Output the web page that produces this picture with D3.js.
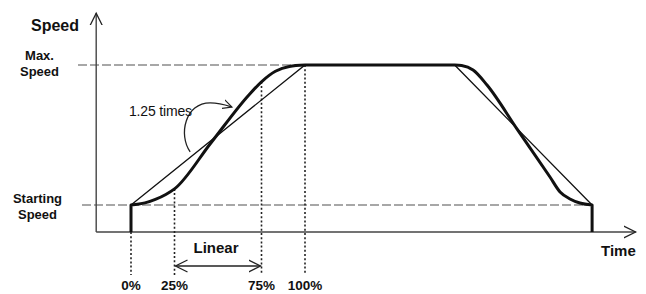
<!DOCTYPE html>
<html>
<head>
<meta charset="utf-8">
<script src="https://cdn.jsdelivr.net/npm/d3@7"></script>
<style>
  body { margin: 0; background: #fff; }
  text { font-family: "Liberation Sans", Arial, sans-serif; fill: #111; }
</style>
</head>
<body>
<div id="chart"></div>
<script>
// time in % of the acceleration period, speed 0 = starting speed, 1 = max speed
var accelTime  = [0, 8, 14, 20, 25, 46, 68, 75, 83, 91, 100];
var accelSpeed = [0, 0.015, 0.04, 0.075, 0.115, 0.445, 0.79, 0.88, 0.955, 0.99, 1];
var decelTime  = [186, 190, 196.6, 204.6, 222, 240.8, 246.6, 252.3, 258, 265];
var decelSpeed = [1, 0.996, 0.964, 0.857, 0.54, 0.2, 0.093, 0.043, 0.014, 0];
var linearTime  = [0, 100, 186, 265];
var linearSpeed = [0, 1, 1, 0];
var markTimes  = [0, 25, 75, 100];
var markLabels = ["0%", "25%", "75%", "100%"];
var levelLabels = [["Starting", "Speed"], ["Max.", "Speed"]];

var width = 646, height = 294;
var svg = d3.select("#chart").append("svg").attr("width", width).attr("height", height);

// Define scales
var xScale = d3.scaleLinear().domain([0, 100]).range([131, 305]);
var yScale = d3.scaleLinear().domain([0, 1]).range([205, 65]);
var tMin = -20, tMax = 290, vMin = -0.193, vMax = 1.37;

// open arrow heads
var defs = svg.append("defs");
function arrowMarker(id, size, w) {
  defs.append("marker")
    .attr("id", id).attr("markerUnits", "userSpaceOnUse")
    .attr("markerWidth", size + 2).attr("markerHeight", size + 2)
    .attr("refX", size).attr("refY", size / 2 + 1)
    .attr("orient", "auto-start-reverse")
    .append("path")
    .attr("d", "M0,1 L" + size + "," + (size / 2 + 1) + " L0," + (size + 1))
    .attr("fill", "none").attr("stroke", "#222").attr("stroke-width", w);
}
arrowMarker("arr", 12, 1.3);
arrowMarker("arrSmall", 9, 1.2);

// Speed levels (dashed)
svg.append("line")
  .attr("x1", 78).attr("x2", xScale(186))
  .attr("y1", yScale(1)).attr("y2", yScale(1))
  .attr("stroke", "#8a8a8a").attr("stroke-width", 1.4).attr("stroke-dasharray", "9,3");
svg.append("line")
  .attr("x1", 82).attr("x2", xScale(265))
  .attr("y1", yScale(0)).attr("y2", yScale(0))
  .attr("stroke", "#8a8a8a").attr("stroke-width", 1.4).attr("stroke-dasharray", "9,3");

// Axes
svg.append("line")
  .attr("x1", xScale(tMin)).attr("x2", xScale(tMin))
  .attr("y1", yScale(vMin)).attr("y2", yScale(vMax))
  .attr("stroke", "#444").attr("stroke-width", 1.4).attr("marker-end", "url(#arr)");
svg.append("line")
  .attr("x1", xScale(tMin)).attr("x2", xScale(tMax))
  .attr("y1", yScale(vMin)).attr("y2", yScale(vMin))
  .attr("stroke", "#444").attr("stroke-width", 1.4).attr("marker-end", "url(#arr)");

// Dotted marks at 0/25/75/100 %
var accelLine = d3.scaleLinear().domain(accelTime).range(accelSpeed);
svg.selectAll(".mark")
  .data(markTimes)
  .enter().append("line")
  .attr("x1", function(d) { return xScale(d); })
  .attr("x2", function(d) { return xScale(d); })
  .attr("y1", function(d) { return d === 0 ? yScale(vMin) : yScale(accelLine(d)); })
  .attr("y2", yScale(-0.5))
  .attr("stroke", "#222").attr("stroke-width", 1.6).attr("stroke-dasharray", "2,2.2");

svg.selectAll(".markLabel")
  .data(markTimes)
  .enter().append("text")
  .attr("x", function(d) { return xScale(d); })
  .attr("y", 290)
  .attr("text-anchor", "middle")
  .attr("font-size", 13.5).attr("font-weight", "bold")
  .text(function(d, i) { return markLabels[i]; });

// Linear region arrow
svg.append("line")
  .attr("x1", xScale(25) + 1).attr("x2", xScale(75) - 1)
  .attr("y1", 266).attr("y2", 266)
  .attr("stroke", "#222").attr("stroke-width", 1.3)
  .attr("marker-start", "url(#arr)").attr("marker-end", "url(#arr)");
svg.append("text")
  .attr("x", (xScale(25) + xScale(75)) / 2 - 2).attr("y", 253)
  .attr("text-anchor", "middle")
  .attr("font-size", 15).attr("font-weight", "bold")
  .text("Linear");

// thin linear profile
var line = d3.line()
  .x(function(d) { return xScale(d[0]); })
  .y(function(d) { return yScale(d[1]); });
svg.append("path")
  .datum(d3.zip(linearTime, linearSpeed))
  .attr("fill", "none").attr("stroke", "#111").attr("stroke-width", 1.3)
  .attr("d", line);

// thick S-curve profile
var sLine = d3.line()
  .x(function(d) { return xScale(d[0]); })
  .y(function(d) { return yScale(d[1]); })
  .curve(d3.curveMonotoneX);
var sPath = sLine(d3.zip(accelTime, accelSpeed)) +
  "L" + sLine(d3.zip(decelTime, decelSpeed)).slice(1);
svg.append("path")
  .attr("d", "M" + xScale(0) + "," + yScale(vMin) + "L" + sPath.slice(1) +
    "L" + xScale(265) + "," + yScale(vMin))
  .attr("fill", "none").attr("stroke", "#111").attr("stroke-width", 3)
  .attr("stroke-linejoin", "round");

// 1.25 times annotation
var p0 = [xScale(34), yScale(0.38)], p1 = [xScale(58), yScale(0.7)];
svg.append("path")
  .attr("d", "M" + p0[0] + "," + p0[1] +
    " C" + (p0[0] - 12) + "," + (p0[1] - 17) + " " + (p0[0] - 5) + "," + (p0[1] - 49) +
    " " + (p0[0] + 20) + "," + (p0[1] - 49) +
    " C" + (p0[0] + 30) + "," + (p0[1] - 49) + " " + (p1[0] - 6) + "," + (p1[1] - 2) +
    " " + p1[0] + "," + p1[1])
  .attr("fill", "none").attr("stroke", "#222").attr("stroke-width", 1.3)
  .attr("marker-end", "url(#arrSmall)");
svg.append("text")
  .attr("x", 129).attr("y", 116)
  .attr("font-size", 14)
  .attr("textLength", 63)
  .text("1.25 times");

// Axis titles
svg.append("text")
  .attr("x", 31).attr("y", 31)
  .attr("font-size", 16).attr("font-weight", "bold")
  .text("Speed");
svg.append("text")
  .attr("x", 601).attr("y", 256)
  .attr("font-size", 15).attr("font-weight", "bold")
  .text("Time");

// Level labels
[0, 1].forEach(function(v) {
  svg.append("text")
    .attr("x", v === 1 ? 39.5 : 37.5)
    .attr("y", yScale(v) - (v === 1 ? 5 : 2))
    .attr("text-anchor", "middle")
    .attr("font-size", 13).attr("font-weight", "bold")
    .selectAll("tspan")
    .data(levelLabels[v])
    .enter().append("tspan")
    .attr("x", v === 1 ? 39.5 : 37.5)
    .attr("dy", function(d, i) { return i === 0 ? 0 : 15.5; })
    .text(function(d) { return d; });
});
</script>
</body>
</html>
